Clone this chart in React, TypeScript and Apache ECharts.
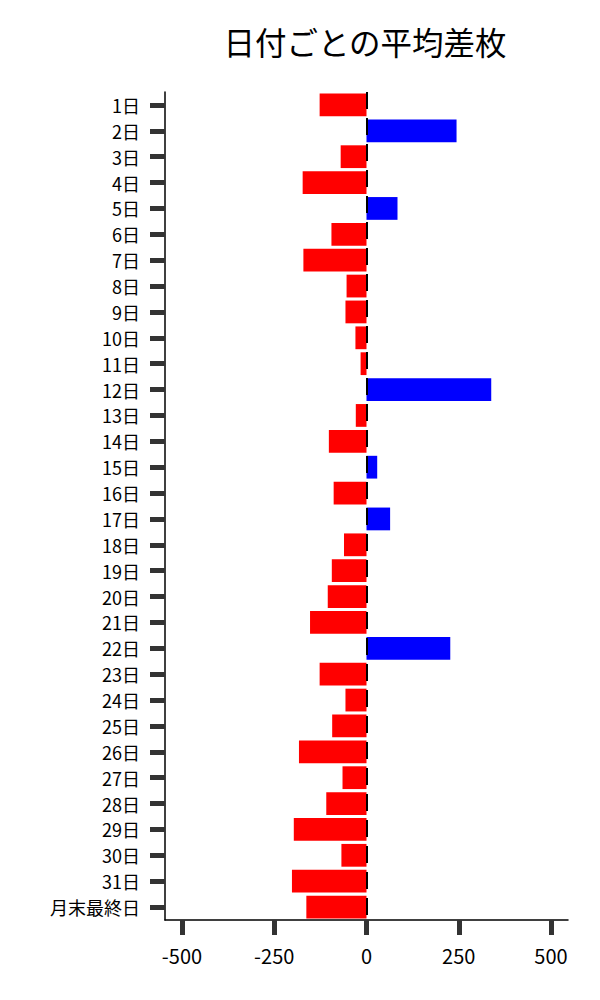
import React, { useEffect, useRef } from 'react';
import * as echarts from 'echarts';

const days = [
  '1日', '2日', '3日', '4日', '5日', '6日', '7日', '8日', '9日', '10日',
  '11日', '12日', '13日', '14日', '15日', '16日', '17日', '18日', '19日', '20日',
  '21日', '22日', '23日', '24日', '25日', '26日', '27日', '28日', '29日', '30日',
  '31日', '月末最終日',
];

const avgDiff = [
  -127, 244, -70, -173, 84, -95, -171, -54, -57, -30,
  -16, 338, -29, -102, 29, -89, 64, -61, -94, -105,
  -153, 227, -127, -57, -93, -183, -65, -109, -197, -68,
  -202, -163,
];

const xTicks = [-500, -250, 0, 250, 500];

const FONT = '"Noto Sans CJK JP", "Noto Sans", sans-serif';

const App: React.FC = () => {
  const chartRef = useRef<HTMLDivElement>(null);

  useEffect(() => {
    document.body.style.margin = '0';
    if (!chartRef.current) return;
    const chart = echarts.init(chartRef.current, null, { renderer: 'svg' });

    const option: echarts.EChartsOption = {
      animation: false,
      textStyle: { fontFamily: FONT },
      title: {
        text: '日付ごとの平均差枚',
        left: 360,
        top: 20,
        textAlign: 'center',
        textStyle: { fontFamily: FONT, fontSize: 31.5, fontWeight: 'normal', color: '#000' },
      },
      grid: { left: 165, right: 32, top: 92, bottom: 80 },
      xAxis: {
        type: 'value',
        position: 'bottom',
        min: -546,
        max: 546,
        splitLine: { show: false },
        axisLine: { show: true, onZero: false, lineStyle: { color: '#000', width: 1.5 } },
        axisTick: {
          show: true,
          customValues: xTicks,
          length: 15,
          lineStyle: { color: '#333', width: 5 },
        },
        axisLabel: {
          customValues: xTicks,
          margin: 25,
          fontSize: 20,
          color: '#000',
          fontFamily: FONT,
        },
      },
      yAxis: {
        type: 'category',
        position: 'left',
        data: days,
        inverse: true,
        axisLine: { show: true, onZero: false, lineStyle: { color: '#000', width: 1.5 } },
        axisTick: {
          show: true,
          alignWithLabel: true,
          length: 15,
          lineStyle: { color: '#333', width: 5 },
        },
        axisLabel: {
          margin: 25,
          fontSize: 18,
          lineHeight: 20,
          color: '#000',
          fontFamily: FONT,
          interval: 0,
        },
      },
      series: [
        {
          type: 'bar',
          data: avgDiff,
          barCategoryGap: '12%',
          itemStyle: {
            color: (p: any) => (p.value >= 0 ? '#0000ff' : '#ff0000'),
          },
          markLine: {
            silent: true,
            symbol: 'none',
            label: { show: false },
            lineStyle: { color: '#000', type: [17, 9], width: 2 },
            data: [{ xAxis: 0 }],
          },
        },
      ],
    };

    chart.setOption(option);
    return () => chart.dispose();
  }, []);

  return <div ref={chartRef} style={{ width: 600, height: 1000 }} />;
};

export default App;
